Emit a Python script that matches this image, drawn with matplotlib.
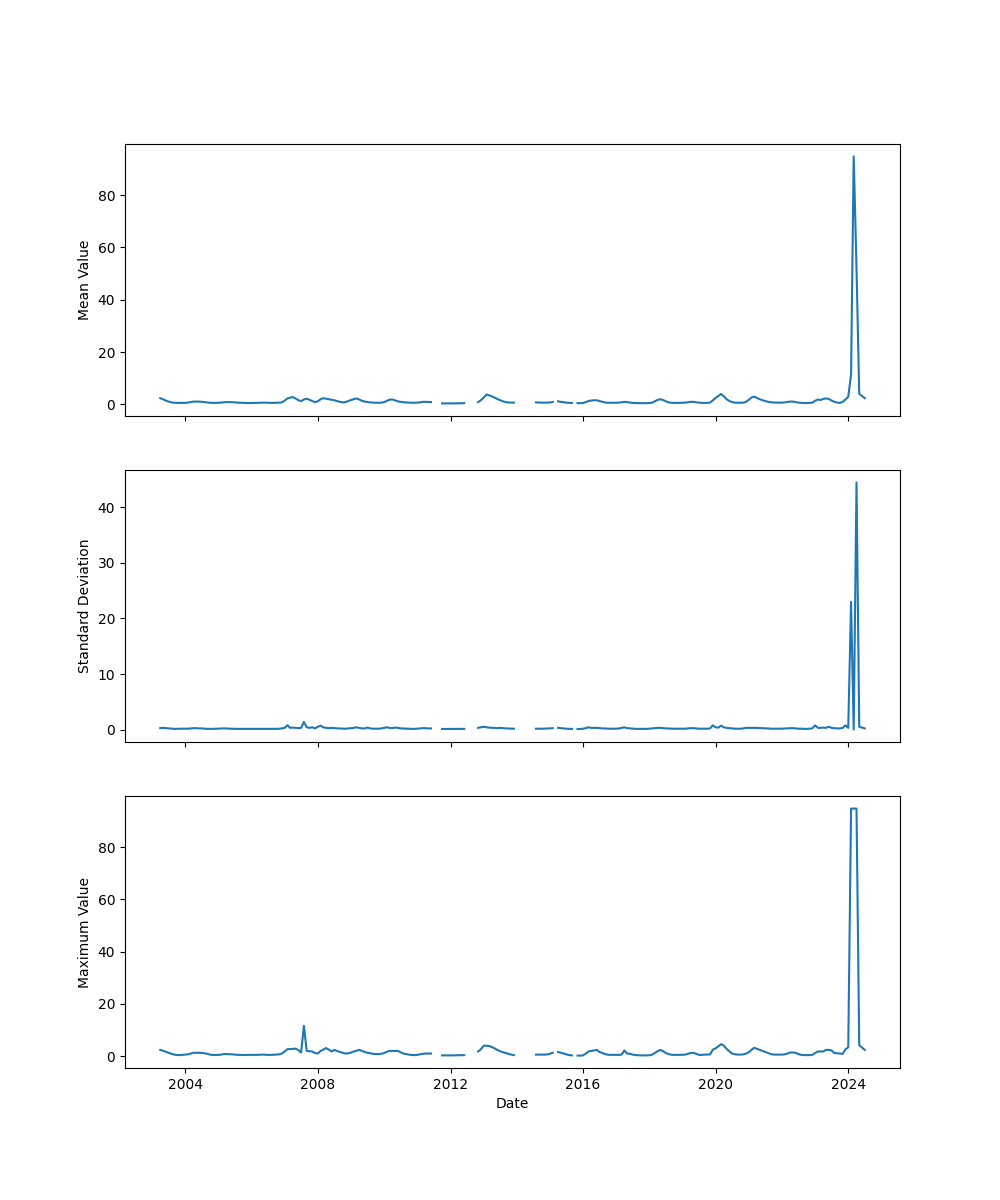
import numpy as np
import pandas as pd
import matplotlib
matplotlib.use("Agg")
import matplotlib.pyplot as plt

nan = np.nan

# monthly stats, month-end dates from Mar 2003 to Jun 2024
dates = pd.date_range("2003-03-31", periods=256, freq="ME")

mean_vals = [
    2.4, 2.0, 1.5, 1.1, 0.8, 0.65, 0.6, 0.6, 0.6, 0.6,                  # 2003
    0.7, 0.9, 1.1, 1.1, 1.1, 1.0, 0.9, 0.75, 0.65, 0.6, 0.6, 0.65,      # 2004
    0.7, 0.85, 0.9, 0.9, 0.85, 0.8, 0.7, 0.65, 0.6, 0.55, 0.55, 0.55,   # 2005
    0.6, 0.6, 0.65, 0.7, 0.7, 0.65, 0.6, 0.6, 0.65, 0.7, 0.8, 1.5,      # 2006
    2.3, 2.6, 2.8, 2.3, 1.6, 1.3, 1.9, 2.2, 1.8, 1.3, 0.9, 1.2,         # 2007
    2.0, 2.4, 2.2, 2.0, 1.8, 1.6, 1.3, 1.0, 0.8, 0.9, 1.3, 1.7,         # 2008
    2.0, 2.3, 1.9, 1.4, 1.1, 0.9, 0.8, 0.7, 0.65, 0.65, 0.7, 0.9,       # 2009
    1.4, 1.8, 1.9, 1.6, 1.2, 1.0, 0.85, 0.75, 0.7, 0.65, 0.65, 0.7,     # 2010
    0.8, 1.0, 1.0, 0.95, 0.9, nan, nan, nan, 0.4, 0.4, 0.4, 0.4,        # 2011
    0.4, 0.42, 0.45, 0.45, 0.5, nan, nan, nan, nan, 0.9, 1.6, 2.6,      # 2012
    3.8, 3.5, 3.1, 2.6, 2.1, 1.6, 1.2, 0.9, 0.75, 0.7, 0.7, nan,        # 2013
    nan, nan, nan, nan, nan, nan, 0.8, 0.75, 0.7, 0.7, 0.7, 0.75,       # 2014
    0.95, nan, 1.2, 1.0, 0.85, 0.7, 0.6, 0.6, nan, 0.5, 0.5, 0.55,      # 2015
    0.9, 1.3, 1.5, 1.6, 1.6, 1.3, 1.0, 0.75, 0.65, 0.65, 0.65, 0.65,    # 2016
    0.7, 0.8, 1.0, 0.9, 0.75, 0.6, 0.55, 0.5, 0.5, 0.5, 0.5, 0.55,      # 2017
    0.7, 1.2, 1.7, 2.0, 1.7, 1.2, 0.8, 0.65, 0.6, 0.6, 0.6, 0.65,       # 2018
    0.7, 0.85, 1.0, 1.0, 0.85, 0.7, 0.6, 0.6, 0.6, 0.7, 1.6, 2.5,       # 2019
    3.3, 4.0, 3.1, 2.0, 1.3, 0.9, 0.7, 0.65, 0.65, 0.7, 1.0, 1.8,       # 2020
    2.7, 3.0, 2.5, 2.0, 1.6, 1.3, 1.0, 0.85, 0.75, 0.7, 0.7, 0.7,       # 2021
    0.8, 0.95, 1.1, 1.1, 0.9, 0.7, 0.6, 0.55, 0.55, 0.6, 0.7, 1.4,      # 2022
    1.9, 1.7, 2.1, 2.3, 2.1, 1.5, 1.0, 0.7, 0.6, 1.0, 1.9, 2.9,         # 2023
    11.5, 94.8, 52.0, 4.1, 3.2, 2.4,                                    # 2024
]

std_vals = [
    0.25, 0.3, 0.25, 0.2, 0.15, 0.12, 0.12, 0.15, 0.15, 0.15,
    0.15, 0.2, 0.25, 0.25, 0.2, 0.2, 0.15, 0.12, 0.12, 0.12, 0.15, 0.15,
    0.2, 0.2, 0.2, 0.15, 0.15, 0.12, 0.12, 0.12, 0.12, 0.1, 0.1, 0.1,
    0.1, 0.12, 0.12, 0.12, 0.12, 0.1, 0.1, 0.12, 0.12, 0.15, 0.2, 0.3,
    0.77, 0.3, 0.35, 0.3, 0.25, 0.3, 1.37, 0.4, 0.3, 0.4, 0.2, 0.5,
    0.7, 0.4, 0.3, 0.25, 0.3, 0.25, 0.2, 0.2, 0.15, 0.15, 0.2, 0.25,
    0.3, 0.4, 0.3, 0.2, 0.2, 0.35, 0.2, 0.15, 0.15, 0.15, 0.2, 0.3,
    0.4, 0.3, 0.25, 0.35, 0.3, 0.2, 0.2, 0.15, 0.15, 0.12, 0.12, 0.15,
    0.2, 0.25, 0.25, 0.2, 0.2, nan, nan, nan, 0.1, 0.1, 0.1, 0.1,
    0.1, 0.1, 0.1, 0.1, 0.12, nan, nan, nan, nan, 0.3, 0.4, 0.5,
    0.4, 0.35, 0.3, 0.3, 0.25, 0.3, 0.25, 0.2, 0.2, 0.15, 0.15, nan,
    nan, nan, nan, nan, nan, nan, 0.15, 0.15, 0.15, 0.15, 0.2, 0.2,
    0.25, nan, 0.3, 0.25, 0.2, 0.15, 0.12, 0.12, nan, 0.1, 0.1, 0.15,
    0.25, 0.4, 0.3, 0.3, 0.3, 0.25, 0.2, 0.2, 0.15, 0.15, 0.15, 0.15,
    0.2, 0.3, 0.4, 0.25, 0.2, 0.15, 0.12, 0.12, 0.12, 0.12, 0.12, 0.15,
    0.2, 0.25, 0.3, 0.3, 0.25, 0.2, 0.2, 0.15, 0.15, 0.15, 0.15, 0.15,
    0.15, 0.2, 0.25, 0.25, 0.2, 0.15, 0.15, 0.15, 0.15, 0.2, 0.75, 0.4,
    0.35, 0.7, 0.4, 0.3, 0.25, 0.2, 0.15, 0.15, 0.15, 0.2, 0.3, 0.3,
    0.3, 0.3, 0.3, 0.25, 0.25, 0.2, 0.2, 0.15, 0.15, 0.15, 0.15, 0.15,
    0.2, 0.2, 0.25, 0.25, 0.2, 0.15, 0.15, 0.12, 0.12, 0.15, 0.2, 0.75,
    0.3, 0.3, 0.35, 0.3, 0.5, 0.3, 0.25, 0.2, 0.2, 0.3, 0.75, 0.3,
    23.0, 0.0, 44.5, 0.5, 0.35, 0.2,
]

max_vals = [
    2.4, 2.1, 1.7, 1.3, 0.9, 0.6, 0.45, 0.4, 0.5, 0.6,
    0.7, 1.0, 1.3, 1.3, 1.3, 1.25, 1.1, 0.9, 0.6, 0.45, 0.45, 0.5,
    0.6, 0.8, 0.8, 0.75, 0.7, 0.6, 0.5, 0.5, 0.45, 0.45, 0.5, 0.5,
    0.5, 0.5, 0.55, 0.6, 0.55, 0.5, 0.5, 0.55, 0.6, 0.7, 1.0, 1.8,
    2.7, 2.7, 2.8, 2.9, 2.3, 1.4, 11.6, 2.0, 1.9, 1.8, 1.2, 1.0,
    2.0, 2.5, 3.1, 2.5, 1.8, 2.4, 2.0, 1.6, 1.3, 1.0, 1.1, 1.4,
    1.8, 2.1, 2.4, 2.0, 1.6, 1.3, 1.1, 0.9, 0.8, 0.8, 0.9, 1.2,
    1.7, 2.0, 2.0, 2.0, 2.0, 1.5, 1.0, 0.8, 0.6, 0.45, 0.4, 0.5,
    0.7, 0.9, 1.0, 1.0, 1.0, nan, nan, nan, 0.3, 0.3, 0.3, 0.3,
    0.3, 0.35, 0.35, 0.4, 0.4, nan, nan, nan, nan, 1.8, 2.6, 4.0,
    4.0, 3.9, 3.5, 3.0, 2.4, 1.9, 1.5, 1.2, 0.9, 0.6, 0.4, nan,
    nan, nan, nan, nan, nan, nan, 0.6, 0.6, 0.6, 0.6, 0.65, 0.9,
    1.3, nan, 1.6, 1.3, 1.0, 0.7, 0.4, 0.3, nan, 0.2, 0.2, 0.3,
    1.0, 1.8, 2.0, 2.2, 2.4, 1.6, 1.2, 0.8, 0.55, 0.5, 0.5, 0.5,
    0.5, 0.6, 2.2, 1.0, 0.9, 0.6, 0.45, 0.35, 0.3, 0.3, 0.3, 0.35,
    0.6, 1.2, 1.9, 2.4, 1.9, 1.2, 0.8, 0.55, 0.5, 0.5, 0.5, 0.55,
    0.6, 0.9, 1.2, 1.3, 0.9, 0.5, 0.5, 0.6, 0.6, 0.7, 2.5, 3.0,
    3.8, 4.6, 4.0, 2.8, 1.8, 1.0, 0.7, 0.6, 0.6, 0.7, 1.0, 1.5,
    2.5, 3.2, 2.8, 2.4, 2.0, 1.6, 1.2, 0.8, 0.6, 0.6, 0.6, 0.6,
    0.7, 1.0, 1.4, 1.4, 1.3, 0.8, 0.5, 0.4, 0.4, 0.4, 0.5, 1.2,
    1.8, 1.8, 1.8, 2.4, 2.4, 2.2, 1.2, 1.1, 1.0, 0.9, 2.6, 3.4,
    94.8, 94.8, 94.8, 4.2, 3.3, 2.4,
]

fig, axes = plt.subplots(3, 1, figsize=(10, 12), sharex=True)

axes[0].plot(dates, mean_vals)
axes[0].set_ylabel("Mean Value")

axes[1].plot(dates, std_vals)
axes[1].set_ylabel("Standard Deviation")

axes[2].plot(dates, max_vals)
axes[2].set_ylabel("Maximum Value")
axes[2].set_xlabel("Date")

plt.savefig("out.png", dpi=100)
